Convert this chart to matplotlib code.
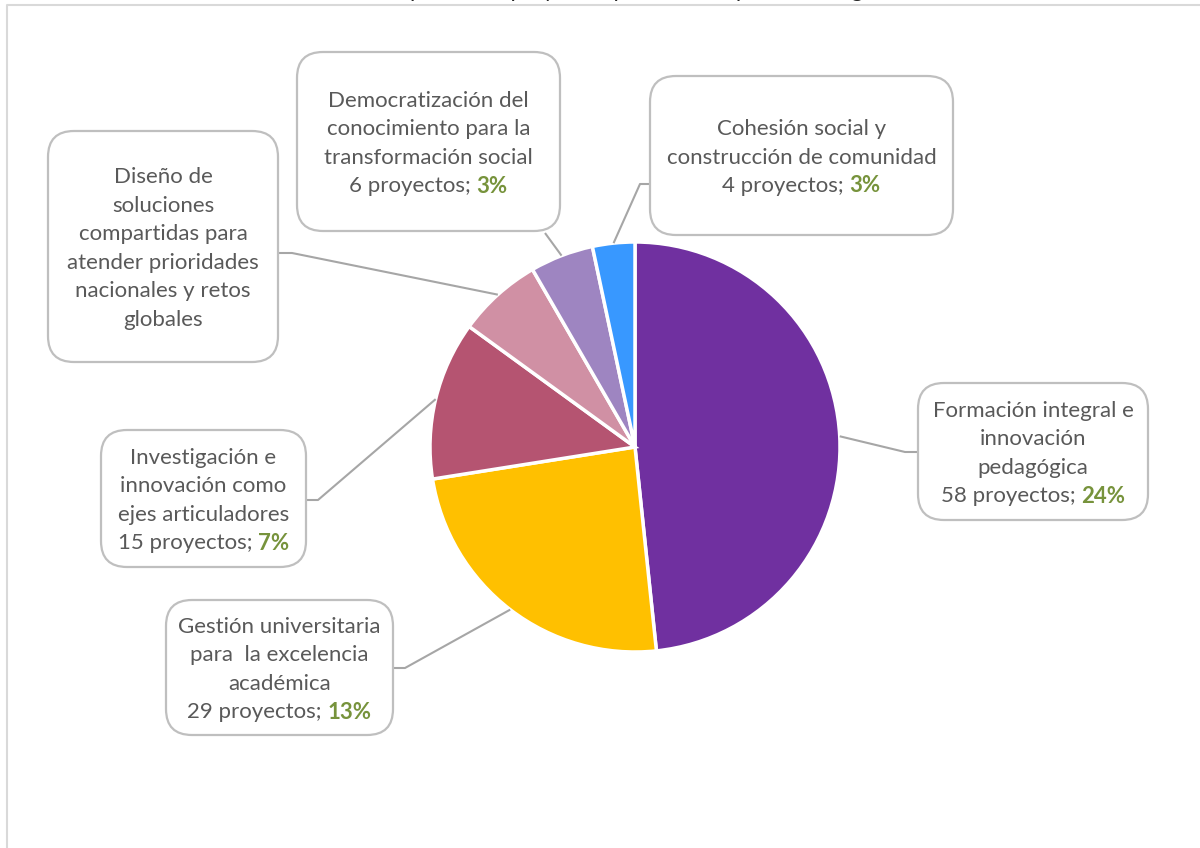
import matplotlib.pyplot as plt
from matplotlib.patches import FancyBboxPatch
import numpy as np

plt.rcParams['font.family'] = ['Lato', 'DejaVu Sans']

# datos
ejes = [
    ["Formación integral e", "innovación", "pedagógica"],
    ["Gestión universitaria", "para  la excelencia", "académica"],
    ["Investigación e", "innovación como", "ejes articuladores"],
    ["Diseño de", "soluciones", "compartidas para", "atender prioridades",
     "nacionales y retos", "globales"],
    ["Democratización del", "conocimiento para la", "transformación social"],
    ["Cohesión social y", "construcción de comunidad"],
]
proyectos = [58, 29, 15, 8, 6, 4]
etiquetas_pct = ["24%", "13%", "7%", None, "3%", "3%"]
mostrar_cuenta = [True, True, True, False, True, True]
colores = ["#7030A0", "#FFC000", "#B55471", "#D090A4", "#9E85C1", "#3898FF"]
titulo = "Participación de proyectos por área del plan estratégico"

W, H = 1200, 848
gris = "#595959"
verde = "#77933C"

# cajas (x0, y0, x1, y1 en pixeles desde arriba) y codo de la linea guia
cajas = [(918, 383, 1148, 520), (166, 600, 393, 735), (101, 430, 306, 567),
         (48, 131, 278, 362), (297, 52, 560, 231), (650, 76, 953, 235)]
anclas = [((918, 452), (905, 452)), ((393, 668), (405, 668)),
          ((306, 500), (318, 500)), ((278, 253), (292, 253)),
          ((545, 233), (545, 233)), ((650, 184), (640, 184))]

fig = plt.figure(figsize=(12, 8.48), dpi=100)
ax = fig.add_axes([0, 0, 1, 1])

def py(y):
    return H - y

cx, cy, r = 635, 447, 205
wedges, _ = ax.pie(proyectos, colors=colores, startangle=90, counterclock=False,
                   center=(cx, py(cy)), radius=r,
                   wedgeprops=dict(edgecolor="white", linewidth=2.5))
ax.set_xlim(0, W)
ax.set_ylim(0, H)
ax.set_aspect("equal")
ax.axis("off")

# marco del grafico
ax.plot([7, 7, W + 5], [py(H + 5), py(5), py(5)], color="#D9D9D9", lw=1.5,
        clip_on=False)
# titulo recortado por el borde superior, como en el original
ax.text(620, py(-3), titulo, ha="center", va="baseline", fontsize=16,
        color="#262626")

fig.canvas.draw()
renderer = fig.canvas.get_renderer()
lh = 28.5
fs = 16

for i, w in enumerate(wedges):
    x0, y0, x1, y1 = cajas[i]
    box = FancyBboxPatch((x0, py(y1)), x1 - x0, y1 - y0,
                         boxstyle="round,pad=0,rounding_size=26",
                         fc="white", ec="#BFBFBF", lw=1.6, zorder=3)
    ax.add_patch(box)

    # linea guia desde el borde de la porcion
    ang = np.deg2rad((w.theta1 + w.theta2) / 2)
    px, pyy = w.center[0] + r * np.cos(ang), w.center[1] + r * np.sin(ang)
    (bx, by), (ex, ey) = anclas[i]
    ax.plot([px, ex, bx], [pyy, py(ey), py(by)], color="#A6A6A6", lw=1.5,
            zorder=2, solid_capstyle="butt")

    lineas = list(ejes[i])
    n = len(lineas) + (1 if mostrar_cuenta[i] else 0)
    xc = (x0 + x1) / 2
    yc = (y0 + y1) / 2 + 2
    ys = [yc + (k - (n - 1) / 2) * lh for k in range(n)]
    for k, txt in enumerate(lineas):
        ax.text(xc, py(ys[k]), txt, ha="center", va="center", fontsize=fs,
                color=gris, zorder=4)
    if mostrar_cuenta[i]:
        t1 = ax.text(xc, py(ys[-1]), f"{proyectos[i]} proyectos; ", ha="left",
                     va="center", fontsize=fs, color=gris, zorder=4)
        t2 = ax.text(xc, py(ys[-1]), etiquetas_pct[i], ha="left", va="center",
                     fontsize=fs, color=verde, fontweight="bold", zorder=4)
        w1 = t1.get_window_extent(renderer).width
        w2 = t2.get_window_extent(renderer).width
        start = xc - (w1 + w2) / 2
        t1.set_x(start)
        t2.set_x(start + w1)

fig.savefig("out.png", dpi=100)
